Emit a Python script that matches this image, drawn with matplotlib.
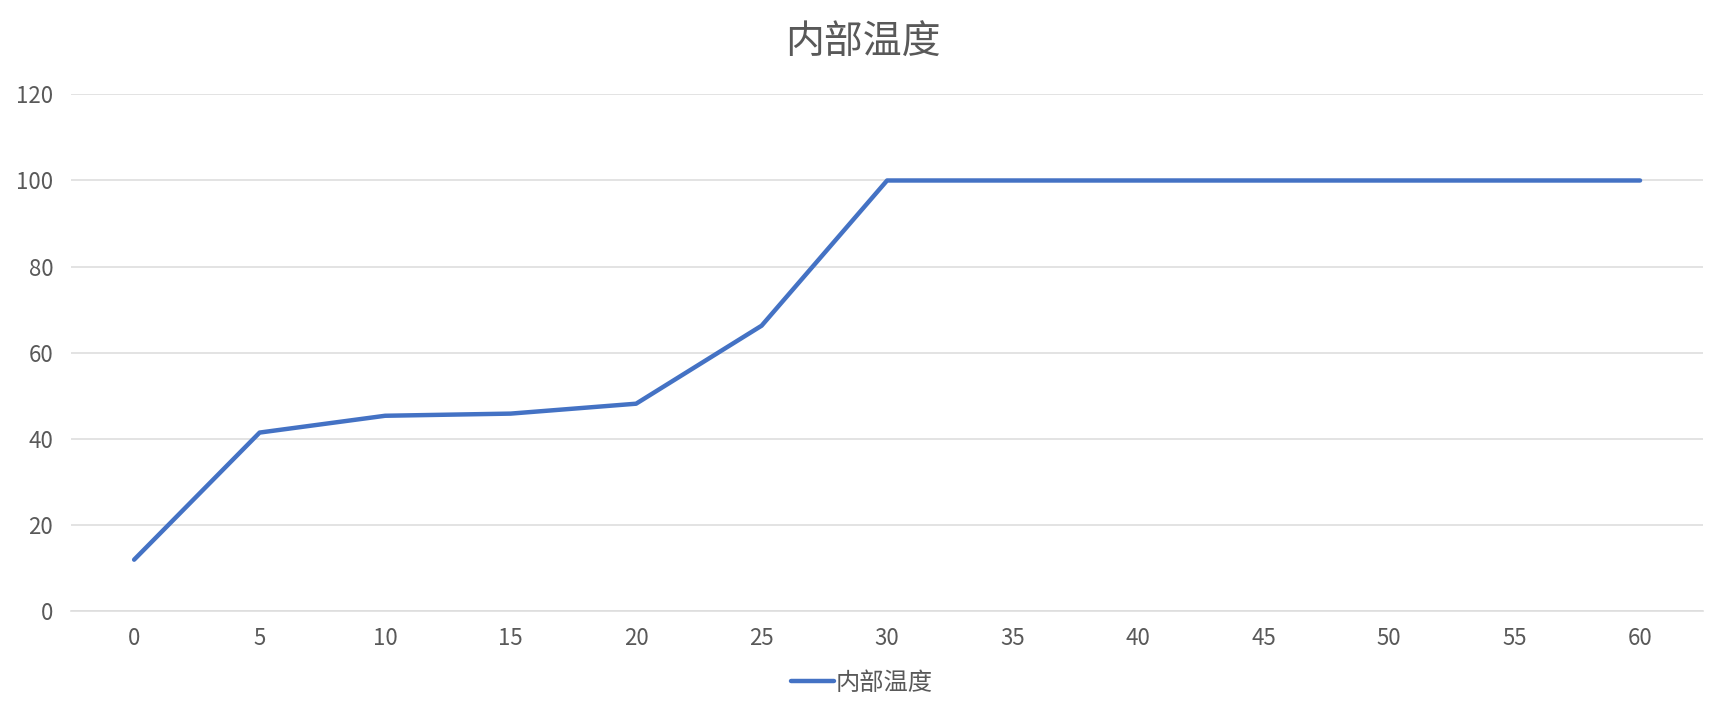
import matplotlib
matplotlib.use("Agg")
import matplotlib.pyplot as plt

plt.rcParams['font.family'] = ['Noto Sans CJK SC', 'DejaVu Sans']

# 数据：时间（分钟）与内部温度
minutes = [0, 5, 10, 15, 20, 25, 30, 35, 40, 45, 50, 55, 60]
temps = [12, 41.5, 45.4, 45.9, 48.2, 66.3, 100, 100, 100, 100, 100, 100, 100]
series_name = "内部温度"
title = "内部温度"
y_ticks = [0, 20, 40, 60, 80, 100, 120]

text_color = "#595959"
grid_color = "#dedede"
line_color = "#4472C4"

fig = plt.figure(figsize=(17.24, 7.15), dpi=100)
ax_left, ax_width = 0.0414, 0.9463
ax = fig.add_axes([ax_left, 0.1449, ax_width, 0.7232])

ax.plot(minutes, temps, color=line_color, lw=3.2, solid_capstyle='round',
        solid_joinstyle='round', label=series_name, zorder=3)

ax.set_xlim(-2.5, 62.5)
ax.set_ylim(0, 120)
ax.set_xticks(minutes)
ax.set_xticklabels([str(m) for m in minutes])
ax.set_yticks(y_ticks)

ax.grid(axis='y', color=grid_color, lw=1.2)
ax.set_axisbelow(True)
for s in ['top', 'right', 'left']:
    ax.spines[s].set_visible(False)
ax.spines['bottom'].set_color(grid_color)
ax.spines['bottom'].set_linewidth(1.2)
ax.tick_params(axis='both', length=0, labelsize=16, labelcolor=text_color)
ax.tick_params(axis='x', pad=11)
ax.tick_params(axis='y', pad=13)
for lab in ax.get_xticklabels() + ax.get_yticklabels():
    lab.set_fontweight('light')

fig.text(0.5006, 0.94, title, ha='center', va='center', fontsize=28,
         color=text_color, fontweight='light')

# 图例居中于整张图（而不是坐标区）
leg_x = (0.5 - ax_left) / ax_width
leg = ax.legend(loc='center', bbox_to_anchor=(leg_x, -0.138), frameon=False,
                fontsize=17.5, handlelength=1.75, handletextpad=0.1)
for t in leg.get_texts():
    t.set_color(text_color)
    t.set_fontweight('light')

fig.savefig("out.png", dpi=100)
